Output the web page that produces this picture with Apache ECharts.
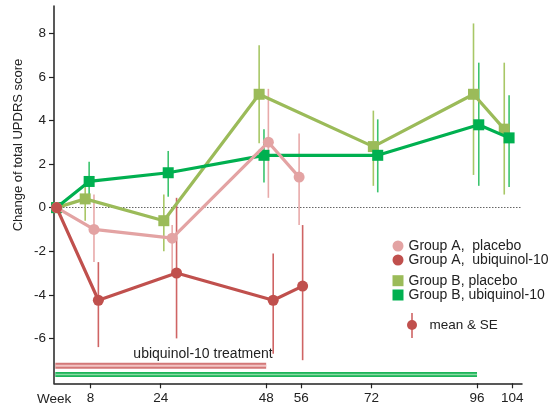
<!DOCTYPE html>
<html>
<head>
<meta charset="utf-8">
<script src="https://cdn.jsdelivr.net/npm/echarts@6/dist/echarts.min.js"></script>
<style>
html,body{margin:0;padding:0;background:#fff;}
#chart{width:548px;height:410px;}
</style>
</head>
<body>
<div id="chart"></div>
<script>
// ---- data (weeks of visit, change of total UPDRS score, SE range) ----
const weekTicks = [8, 24, 48, 56, 72, 96, 104];
const yTicks = [-6, -4, -2, 0, 2, 4, 6, 8];

const aPlaceboWeek = [0.3, 8.8, 26.6, 48.5, 55.5];
const aPlaceboMean = [0, -1.0, -1.4, 3.0, 1.4];
const aPlaceboHigh = [null, 0.6, -0.8, 5.45, 3.4];
const aPlaceboLow  = [null, -2.5, -3.1, 0.45, -0.8];

const aUbiWeek = [0.3, 9.8, 27.6, 49.6, 56.3];
const aUbiMean = [0, -4.25, -3.0, -4.25, -3.6];
const aUbiHigh = [null, -2.5, 0.45, -2.1, -0.8];
const aUbiLow  = [null, -6.4, -6.0, -6.7, -7.0];

const bPlaceboWeek = [0.3, 6.8, 24.7, 46.4, 72.4, 95.2, 102.2];
const bPlaceboMean = [0, 0.4, -0.6, 5.2, 2.8, 5.2, 3.6];
const bPlaceboHigh = [null, 1.4, 0.6, 7.45, 4.45, 8.45, 6.65];
const bPlaceboLow  = [null, -0.6, -2.0, 2.95, 1.0, 1.5, 0.6];

const bUbiWeek = [0.3, 7.7, 25.7, 47.5, 73.4, 96.4, 103.3];
const bUbiMean = [0, 1.2, 1.6, 2.4, 2.4, 3.8, 3.2];
const bUbiHigh = [null, 2.1, 2.6, 3.6, 4.05, 6.65, 5.15];
const bUbiLow  = [null, 0.35, 0.5, 1.15, 0.7, 1.0, 0.95];

const treatmentA = [0, 48];   // Group A on ubiquinol-10 (weeks)
const treatmentB = [0, 96];   // Group B on ubiquinol-10 (weeks)

const names = ['Group A,  placebo', 'Group A,  ubiquinol-10', 'Group B, placebo', 'Group B, ubiquinol-10'];
const colors = ['#e3a3a3', '#c0504d', '#9bbb59', '#00b050'];
const barColors = ['#e8aaaa', '#cf6464', '#a8c766', '#3cc46e'];

const FONT = '"Liberation Sans", Arial, sans-serif';

function pts(w, m) { return w.map((x, i) => [x, m[i]]); }
function bars(w, lo, hi) {
  const out = [];
  w.forEach((x, i) => { if (lo[i] !== null) out.push([x, lo[i], hi[i]]); });
  return out;
}
function errSeries(data, color) {
  return {
    type: 'custom', z: 1, silent: true,
    renderItem: function (params, api) {
      const p1 = api.coord([api.value(0), api.value(1)]);
      const p2 = api.coord([api.value(0), api.value(2)]);
      return { type: 'line', shape: { x1: p1[0], y1: p1[1], x2: p2[0], y2: p2[1] },
               style: { stroke: color, lineWidth: 1.6 } };
    },
    encode: { x: 0, y: [1, 2] },
    data: data
  };
}
function lineSeries(name, data, color, symbol, z) {
  return {
    name: name, type: 'line', data: data, z: z,
    symbol: symbol, symbolSize: 11,
    lineStyle: { color: color, width: 3.2 },
    itemStyle: { color: color },
    emphasis: { disabled: true }, animation: false
  };
}
function treatSeries(range, y, outer, inner, w1, w2) {
  const d = range.map(x => [x, y]);
  return [
    { type: 'line', data: d, symbol: 'none', silent: true, z: 0,
      lineStyle: { color: outer, width: w1 }, animation: false },
    { type: 'line', data: d, symbol: 'none', silent: true, z: 0,
      lineStyle: { color: inner, width: w2 }, animation: false }
  ];
}

const chart = echarts.init(document.getElementById('chart'), null, { renderer: 'canvas' });

const series = [
  errSeries(bars(bPlaceboWeek, bPlaceboLow, bPlaceboHigh), barColors[2]),
  errSeries(bars(bUbiWeek, bUbiLow, bUbiHigh), barColors[3]),
  errSeries(bars(aPlaceboWeek, aPlaceboLow, aPlaceboHigh), barColors[0]),
  errSeries(bars(aUbiWeek, aUbiLow, aUbiHigh), barColors[1]),
  ...treatSeries(treatmentA, -7.25, '#d37878', '#f2c4c4', 6, 2),
  ...treatSeries(treatmentB, -7.66, '#1db55a', '#8adba5', 5, 1.5),
  Object.assign(lineSeries(names[2], pts(bPlaceboWeek, bPlaceboMean), colors[2], 'rect', 2), {
    markLine: { silent: true, symbol: 'none', label: { show: false }, z: 0,
      lineStyle: { color: '#666', type: [1.5, 1.5], width: 1 },
      data: [{ yAxis: 0 }], animation: false }
  }),
  lineSeries(names[3], pts(bUbiWeek, bUbiMean), colors[3], 'rect', 3),
  lineSeries(names[0], pts(aPlaceboWeek, aPlaceboMean), colors[0], 'circle', 4),
  lineSeries(names[1], pts(aUbiWeek, aUbiMean), colors[1], 'circle', 5)
];

chart.setOption({
  animation: false,
  backgroundColor: '#fff',
  textStyle: { fontFamily: FONT },
  grid: { left: 54, right: 26, top: 6, bottom: 26.7 },
  xAxis: {
    type: 'value', min: -0.3, max: 106.24,
    axisLine: { show: true, onZero: false, lineStyle: { color: '#222', width: 1.5 } },
    axisTick: { show: true, customValues: weekTicks, length: 5, lineStyle: { color: '#222', width: 1.2 } },
    axisLabel: { customValues: weekTicks, fontSize: 13.5, color: '#222', margin: 8, fontFamily: FONT },
    splitLine: { show: false }
  },
  yAxis: {
    type: 'value', min: -8.06, max: 9.25,
    axisLine: { show: true, onZero: false, lineStyle: { color: '#222', width: 1.5 } },
    axisTick: { show: true, customValues: yTicks, length: 5, lineStyle: { color: '#222', width: 1.2 } },
    axisLabel: { customValues: yTicks, fontSize: 13.5, color: '#222', margin: 8, fontFamily: FONT },
    splitLine: { show: false }
  },
  legend: [
    { orient: 'vertical', left: 392.5, top: 239, padding: 0, itemWidth: 11, itemHeight: 11, itemGap: 0,
      selectedMode: false, textStyle: { fontSize: 14, color: '#222', lineHeight: 14, fontFamily: FONT },
      data: [{ name: names[0], icon: 'circle' }, { name: names[1], icon: 'circle' }] },
    { orient: 'vertical', left: 392.5, top: 273.7, padding: 0, itemWidth: 11, itemHeight: 11, itemGap: 0.3,
      selectedMode: false, textStyle: { fontSize: 14, color: '#222', lineHeight: 14, fontFamily: FONT },
      data: [{ name: names[2], icon: 'rect' }, { name: names[3], icon: 'rect' }] }
  ],
  graphic: [
    { type: 'text', left: 37, top: 392, style: { text: 'Week', font: '13.5px ' + FONT, fill: '#222' } },
    { type: 'text', x: 18, y: 145, rotation: Math.PI / 2,
      style: { text: 'Change of total UPDRS score', font: '13px ' + FONT, fill: '#222',
               align: 'center', verticalAlign: 'middle' } },
    { type: 'text', x: 203, y: 354.3,
      style: { text: 'ubiquinol-10 treatment', font: '14px ' + FONT, fill: '#222',
               align: 'center', verticalAlign: 'middle' } },
    { type: 'line', shape: { x1: 412, y1: 313, x2: 412, y2: 338 },
      style: { stroke: '#cf6464', lineWidth: 1.6 } },
    { type: 'circle', shape: { cx: 412, cy: 325, r: 5 }, style: { fill: '#c0504d' } },
    { type: 'text', x: 429.5, y: 325,
      style: { text: 'mean & SE', font: '13.5px ' + FONT, fill: '#222', verticalAlign: 'middle' } }
  ],
  series: series
});
</script>
</body>
</html>
